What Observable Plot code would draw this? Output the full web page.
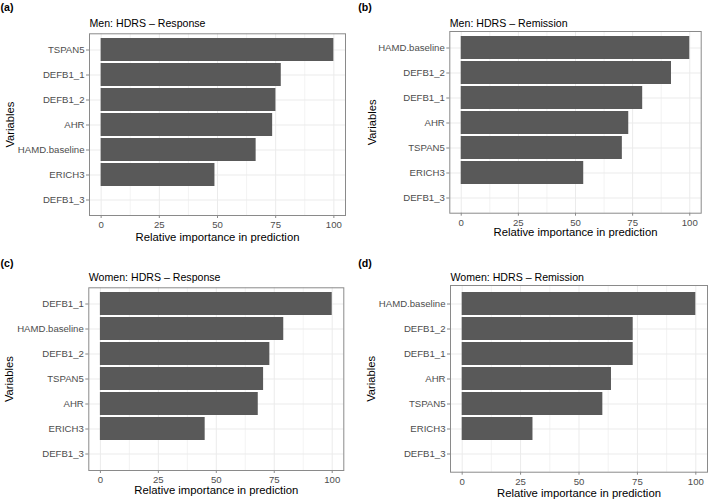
<!DOCTYPE html>
<html><head><meta charset="utf-8">
<script src="https://cdn.jsdelivr.net/npm/d3@7"></script>
<script src="https://cdn.jsdelivr.net/npm/@observablehq/plot@0.6"></script>
<style>
body{margin:0;background:#fff;}
#wrap{position:relative;width:709px;height:499px;overflow:hidden;background:#fff;font-family:"Liberation Sans",Arial,Helvetica,sans-serif;}
#wrap svg{position:absolute;}
</style></head><body><div id="wrap"></div>
<script>
// ---- data ----
const menResponseVars = ["TSPAN5","DEFB1_1","DEFB1_2","AHR","HAMD.baseline","ERICH3","DEFB1_3"];
const menResponseValues = [100, 77.4, 75.1, 73.7, 66.6, 48.9, 0];
const menRemissionVars = ["HAMD.baseline","DEFB1_2","DEFB1_1","AHR","TSPAN5","ERICH3","DEFB1_3"];
const menRemissionValues = [100, 92.0, 79.4, 73.3, 70.5, 53.6, 0];
const womenResponseVars = ["DEFB1_1","HAMD.baseline","DEFB1_2","TSPAN5","AHR","ERICH3","DEFB1_3"];
const womenResponseValues = [100, 79.1, 73.1, 70.4, 68.1, 45.2, 0];
const womenRemissionVars = ["HAMD.baseline","DEFB1_2","DEFB1_1","AHR","TSPAN5","ERICH3","DEFB1_3"];
const womenRemissionValues = [100, 73.2, 73.2, 63.9, 60.2, 30.3, 0];
const xTicks = [0, 25, 50, 75, 100];
const xMinorTicks = [12.5, 37.5, 62.5, 87.5];
const panelTags = ["(a)", "(b)", "(c)", "(d)"];
const panelTitles = ["Men: HDRS \u2013 Response", "Men: HDRS \u2013 Remission", "Women: HDRS \u2013 Response", "Women: HDRS \u2013 Remission"];
const xLabel = "Relative importance in prediction";
const yLabel = "Variables";

// ---- layout ----
const panels = [
  {vars: menResponseVars, vals: menResponseValues, left:0, top:0, width:355, height:250, mL:89, mR:10, mT:33.3, mB:35, tagX:0, tagY:6.7, titleDy:-10.6, xTitleDy:21.7, yTitleX:10},
  {vars: menRemissionVars, vals: menRemissionValues, left:355, top:0, width:354, height:250, mL:94.3, mR:8.3, mT:31, mB:37.3, tagX:2.7, tagY:6.7, titleDy:-7.7, xTitleDy:19.6, yTitleX:16.7},
  {vars: womenResponseVars, vals: womenResponseValues, left:0, top:250, width:355, height:249, mL:88.3, mR:11.7, mT:37.3, mB:29, tagX:0, tagY:13.3, titleDy:-10.6, xTitleDy:20, yTitleX:9.3},
  {vars: womenRemissionVars, vals: womenRemissionValues, left:355, top:250, width:354, height:249, mL:95, mR:2, mT:35, mB:27.3, tagX:2.7, tagY:13.3, titleDy:-7.5, xTitleDy:21.3, yTitleX:16}
];

const wrap = document.getElementById("wrap");
const font = '"Liberation Sans", Arial, Helvetica, sans-serif';

panels.forEach((p, i) => {
  const data = p.vars.map((v, j) => ({variable: v, importance: p.vals[j]}));
  const frameH = p.height - p.mT - p.mB;
  const chart = Plot.plot({
    width: p.width,
    height: p.height,
    marginLeft: p.mL,
    marginRight: p.mR,
    marginTop: p.mT,
    marginBottom: p.mB,
    x: {domain: [-5, 105]},
    y: {domain: p.vars, paddingInner: 0.1, paddingOuter: 0.15},
    style: {fontFamily: font, fontSize: "9.6px", overflow: "visible", background: "transparent", color: "black"},
    marks: [
      Plot.gridX(xMinorTicks, {stroke: "#ebebeb", strokeOpacity: 1, strokeWidth: 0.6}),
      Plot.gridX(xTicks, {stroke: "#ebebeb", strokeOpacity: 1, strokeWidth: 1}),
      Plot.gridY(p.vars, {stroke: "#ebebeb", strokeOpacity: 1, strokeWidth: 1}),
      Plot.barX(data, {y: "variable", x: "importance", fill: "#595959"}),
      Plot.frame({stroke: "#8a8a8a", strokeWidth: 1}),
      Plot.axisX(xTicks, {tickSize: 3, tickPadding: 2.5, stroke: "#8a8a8a", fill: "#4d4d4d", label: null}),
      Plot.axisY({tickSize: 3, tickPadding: 2, stroke: "#8a8a8a", fill: "#4d4d4d", label: null}),
      Plot.text([panelTitles[i]], {text: d => d, frameAnchor: "top-left", dy: p.titleDy, lineAnchor: "middle", textAnchor: "start", fontSize: 10.6, fill: "black"}),
      Plot.text([xLabel], {text: d => d, frameAnchor: "bottom", dy: p.xTitleDy, lineAnchor: "middle", textAnchor: "middle", fontSize: 11.3, fill: "black"}),
      Plot.text([yLabel], {text: d => d, frameAnchor: "left", dx: p.yTitleX - p.mL, rotate: -90, lineAnchor: "middle", textAnchor: "middle", fontSize: 11.2, fill: "black"}),
      Plot.text([panelTags[i]], {text: d => d, frameAnchor: "top-left", dx: p.tagX - p.mL, dy: p.tagY - p.mT, lineAnchor: "middle", textAnchor: "start", fontSize: 10.6, fontWeight: "bold", fill: "black"})
    ]
  });
  chart.style.left = p.left + "px";
  chart.style.top = p.top + "px";
  wrap.appendChild(chart);
});
</script>
</body></html>
